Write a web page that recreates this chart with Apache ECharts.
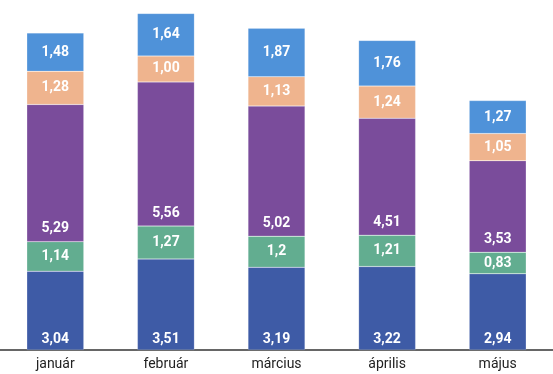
<!DOCTYPE html>
<html><head><meta charset="utf-8">
<script src="https://cdn.jsdelivr.net/npm/echarts@6/dist/echarts.min.js"></script>
<style>html,body{margin:0;padding:0;background:#fff}#c{width:553px;height:374px}</style>
</head><body><div id="c"></div>
<script>
const categories = ['január','február','március','április','május'];
const s1 = [3.04, 3.51, 3.19, 3.22, 2.94];
const s2 = [1.14, 1.27, 1.2, 1.21, 0.83];
const s3 = [5.29, 5.56, 5.02, 4.51, 3.53];
const s4 = [1.28, 1.00, 1.13, 1.24, 1.05];
const s5 = [1.48, 1.64, 1.87, 1.76, 1.27];
const labels = {
  s1: ['3,04','3,51','3,19','3,22','2,94'],
  s2: ['1,14','1,27','1,2','1,21','0,83'],
  s3: ['5,29','5,56','5,02','4,51','3,53'],
  s4: ['1,28','1,00','1,13','1,24','1,05'],
  s5: ['1,48','1,64','1,87','1,76','1,27']
};
const colors = ['#3e5ba6','#62ad90','#7a4c9b','#efb48e','#4f92d9'];
const font = '"Liberation Sans Narrow","Roboto","Noto Sans",sans-serif';
function mk(name, data, lab, color, pos, dist){
  return {
    name, type:'bar', stack:'t', data, barWidth:57,
    itemStyle:{color, borderColor:'rgba(255,255,255,0.35)', borderWidth:0.5},
    label:{show:true, position:pos, distance:dist, color:'#fff', fontWeight:'bold', fontSize:14, fontFamily:font,
      formatter:p=>lab[p.dataIndex]}
  };
}
const chart = echarts.init(document.getElementById('c'));
chart.setOption({
  animation:false,
  grid:{left:0,right:0,top:0,bottom:24},
  xAxis:{type:'category', data:categories,
    axisLine:{lineStyle:{color:'#333', width:1.5}}, axisTick:{show:false},
    axisLabel:{color:'#222', fontSize:14, fontFamily:font, margin:7}},
  yAxis:{type:'value', min:0, max:13.5, show:false, splitLine:{show:false}},
  series:[
    mk('a', s1, labels.s1, colors[0], 'insideBottom', 4),
    mk('b', s2, labels.s2, colors[1], 'inside', 0),
    mk('c', s3, labels.s3, colors[2], 'insideBottom', 6),
    mk('d', s4, labels.s4, colors[3], 'inside', 0),
    mk('e', s5, labels.s5, colors[4], 'inside', 0)
  ]
});
</script></body></html>
